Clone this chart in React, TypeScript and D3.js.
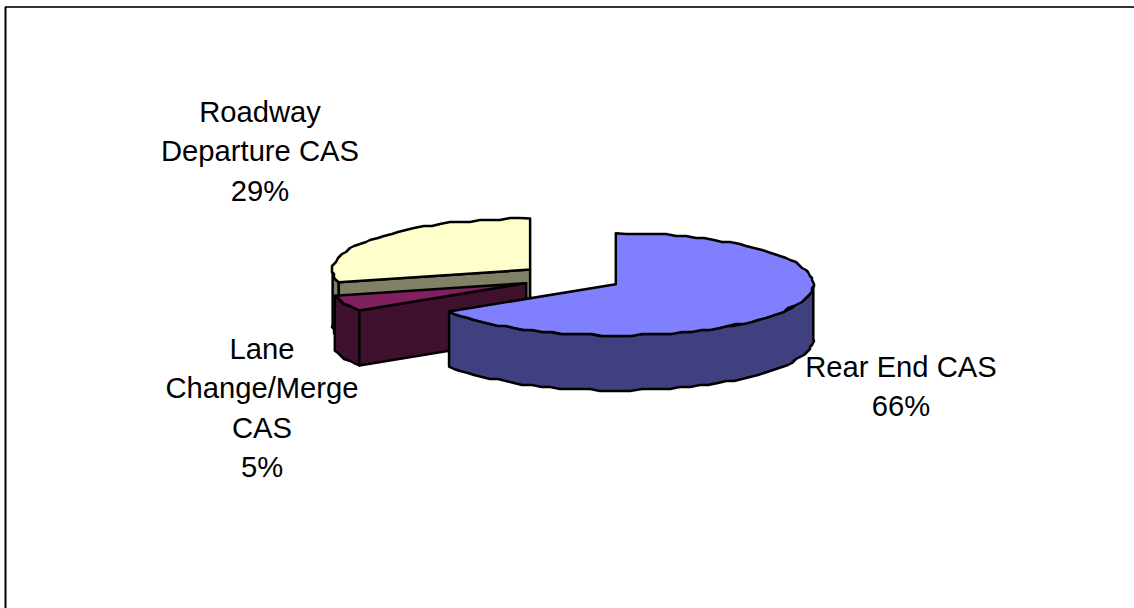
import * as d3 from "d3"

const categories = ["Rear End CAS", "Lane Change/Merge CAS", "Roadway Departure CAS"]
const percents = [66, 5, 29]
const labelLines = [["Rear End CAS", "66%"], ["Lane", "Change/Merge", "CAS", "5%"], ["Roadway", "Departure CAS", "29%"]]
const topColors = ["#8080FF", "#802060", "#FFFFCC"]
const sideColors = ["#404080", "#40102F", "#808066"]

const width = 1134
const height = 608
const cx = 572
const cy = 278
const rx = 197.5
const ry = 51
const depth = 55
const explode = [50, 50, 53]
const labelPos = [
  { x: 901, y: 377 },
  { x: 262, y: 359 },
  { x: 260, y: 122 },
]

// the original was exported with a coarse outline, so snap samples to a grid
const snap = (v: number) => Math.round(v / 2) * 2

function arcPoints(c: [number, number], a0: number, a1: number, dy = 0): [number, number][] {
  const steps = Math.max(2, Math.ceil((a1 - a0) / (Math.PI / 60)))
  return d3.range(steps + 1).map((i) => {
    const a = a0 + ((a1 - a0) * i) / steps
    const wobble = i === 0 || i === steps ? (v: number) => v : snap
    return [wobble(c[0] + rx * Math.sin(a)), wobble(c[1] - ry * Math.cos(a)) + dy] as [number, number]
  })
}

export default function App() {
  const pie = d3.pie<number>().sort(null)
  const arcs = pie(percents)
  const line = d3.line().curve(d3.curveLinear)
  const order = [2, 1, 0]

  return (
    <svg
      width={width}
      height={height}
      viewBox={`0 0 ${width} ${height}`}
      style={{ position: "absolute", left: 0, top: 0, background: "#fff" }}
    >
      <line x1={5} x2={width} y1={7} y2={7} stroke="#333" strokeWidth={2} />
      <line x1={5.5} x2={5.5} y1={7} y2={height} stroke="#000" strokeWidth={2} />
      {order.map((idx) => {
        const d = arcs[idx]
        const mid = (d.startAngle + d.endAngle) / 2
        const c: [number, number] = [
          cx + explode[idx] * Math.sin(mid),
          cy - (explode[idx] * Math.cos(mid) * ry) / rx,
        ]
        const top = arcPoints(c, d.startAngle, d.endAngle)
        const wallStart = Math.max(d.startAngle, Math.PI / 2)
        const wallEnd = Math.min(d.endAngle, (3 * Math.PI) / 2)
        const outer = arcPoints(c, wallStart, wallEnd)
        const outerLow = arcPoints(c, wallStart, wallEnd, depth).reverse()
        const startPt = top[0]
        return (
          <g key={categories[idx]} stroke="#000" strokeWidth={2.5} strokeLinejoin="round">
            {wallEnd > wallStart && (
              <path d={line([...outer, ...outerLow])! + "Z"} fill={sideColors[idx]} />
            )}
            {d.startAngle > Math.PI && (
              <path
                d={
                  line([
                    c,
                    startPt,
                    [startPt[0], startPt[1] + depth],
                    [c[0], c[1] + depth],
                  ])! + "Z"
                }
                fill={sideColors[idx]}
              />
            )}
            <path d={line([c, ...top])! + "Z"} fill={topColors[idx]} />
          </g>
        )
      })}
      {labelLines.map((lines, i) => (
        <text
          key={categories[i]}
          textAnchor="middle"
          fontFamily="'Liberation Sans', Arial, sans-serif"
          fontSize={29.2}
          fill="#000"
        >
          {lines.map((t, j) => (
            <tspan key={t} x={labelPos[i].x} y={labelPos[i].y + j * 39.3}>
              {t}
            </tspan>
          ))}
        </text>
      ))}
    </svg>
  )
}
